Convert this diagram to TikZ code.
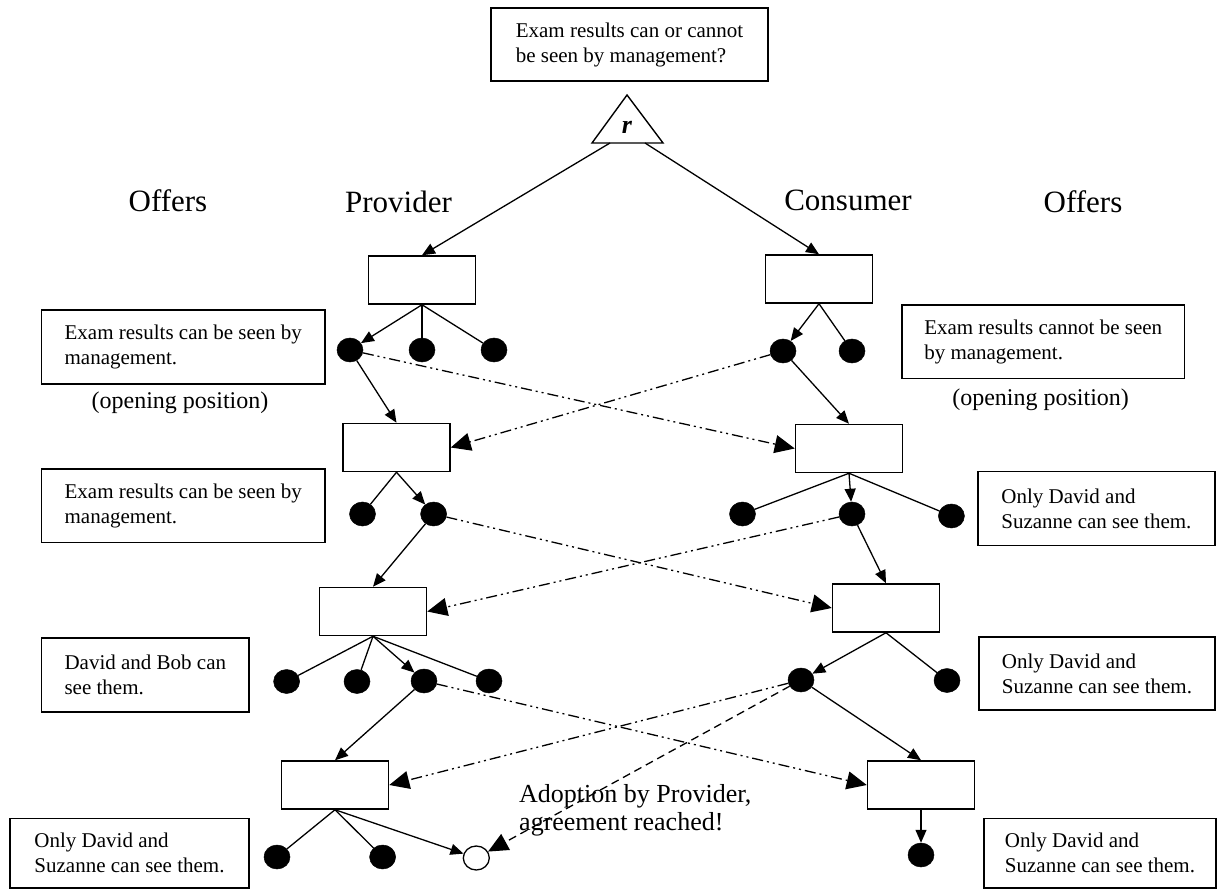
\documentclass[tikz,border=0pt]{standalone}
\usepackage{fontspec}
\setmainfont{Liberation Serif}
\usetikzlibrary{arrows.meta,shapes.geometric}
\begin{document}
\begin{tikzpicture}[x=1pt,y=-1pt,
  box/.style={draw, line width=1.5pt, minimum width=107pt, minimum height=48pt, inner sep=0pt},
  tbox/.style={draw, line width=1.5pt, align=left, inner sep=0pt, font=\fontsize{21}{25}\selectfont},
  dot/.style={ellipse, fill=black, draw=black, line width=0.5pt, minimum width=26pt, minimum height=24pt, inner sep=0pt},
  odot/.style={ellipse, fill=white, draw=black, line width=1.3pt, minimum width=26pt, minimum height=24pt, inner sep=0pt},
  conn/.style={line width=1.3pt},
  arr/.style={conn, -{Triangle[length=13pt,width=11pt]}},
  offer/.style={conn, -{Triangle[length=20pt,width=18pt]}, dash pattern=on 11pt off 4pt on 2pt off 4pt on 2pt off 4pt},
  adopt/.style={conn, -{Triangle[length=20pt,width=18pt]}, dash pattern=on 8pt off 5pt},
  lbl/.style={font=\fontsize{31}{36}\selectfont, inner sep=0pt, anchor=base},
  olbl/.style={font=\fontsize{24}{28}\selectfont, inner sep=0pt, anchor=base},
]
\useasboundingbox (0,0) rectangle (1217,890);

% question box and triangle
\node[tbox, minimum width=277pt, minimum height=73pt] (q) at (629.5,44.5) {Exam results can or cannot\\be seen by management?};
\draw[line width=1.4pt] (627,95) -- (663,143) -- (592,143) -- cycle;
\node[inner sep=0pt, anchor=base, font=\fontsize{26}{30}\selectfont\bfseries\itshape] (r) at (627,134) {r};
\coordinate (triL) at (610,143);
\coordinate (triR) at (645,143);

% headings
\node[lbl] (offL) at (168,212) {Offers};
\node[lbl] (prov) at (398.5,213) {Provider};
\node[lbl] (cons) at (848,211) {Consumer};
\node[lbl] (offR) at (1083,212.5) {Offers};

% decision boxes
\node[box] (P1) at (422,280) {};
\node[box] (C1) at (819,279) {};
\node[box] (P2) at (396.5,447.5) {};
\node[box] (C2) at (849,448.5) {};
\node[box] (P3) at (373,611.5) {};
\node[box] (C3) at (886,608) {};
\node[box] (P4) at (335,785) {};
\node[box] (C4) at (921,785) {};

% dots
\node[dot] (P1a) at (350,350) {};
\node[dot] (P1b) at (422,350) {};
\node[dot] (P1c) at (494,350) {};
\node[dot] (C1a) at (783,351) {};
\node[dot] (C1b) at (852,351) {};
\node[dot] (P2a) at (362.5,514) {};
\node[dot] (P2b) at (433.6,514) {};
\node[dot] (C2a) at (742.5,514) {};
\node[dot] (C2b) at (852,514) {};
\node[dot] (C2c) at (951.4,516) {};
\node[dot] (P3a) at (286.6,681.5) {};
\node[dot] (P3b) at (357,681.5) {};
\node[dot] (P3c) at (424,681) {};
\node[dot] (P3d) at (489,681) {};
\node[dot] (C3a) at (801,680) {};
\node[dot] (C3b) at (947,680.5) {};
\node[dot] (P4a) at (277,857) {};
\node[dot] (P4b) at (382.6,857) {};
\node[odot] (P4c) at (476.3,858) {};
\node[dot] (C4a) at (921,855) {};

% offer text boxes
\node[tbox, minimum width=283.5pt, minimum height=74pt] (tL1) at (183.3,347) {Exam results can be seen by\\management.};
\node[olbl] (opL) at (180,408) {(opening position)};
\node[tbox, minimum width=282.4pt, minimum height=73.3pt] (tR1) at (1043.2,341.7) {Exam results cannot be seen\\by management.};
\node[olbl] (opR) at (1040.6,405) {(opening position)};
\node[tbox, minimum width=283.5pt, minimum height=73.3pt] (tL2) at (183.3,505.7) {Exam results can be seen by\\management.};
\node[tbox, minimum width=237.2pt, minimum height=74pt] (tR2) at (1096.4,508.7) {Only David and\\Suzanne can see them.};
\node[tbox, minimum width=207.5pt, minimum height=73.7pt] (tL3) at (145.3,674.9) {David and Bob can\\see them.};
\node[tbox, minimum width=236pt, minimum height=73pt] (tR3) at (1097,673.5) {Only David and\\Suzanne can see them.};
\node[tbox, minimum width=239pt, minimum height=69.7pt] (tL4) at (129.5,853.2) {Only David and\\Suzanne can see them.};
\node[tbox, minimum width=232pt, minimum height=69.7pt] (tR4) at (1100,853.2) {Only David and\\Suzanne can see them.};

% adoption label
\node[inner sep=0pt, anchor=west, align=left, font=\fontsize{26}{28}\selectfont] (adopt) at (519,810) {Adoption by Provider,\\agreement reached!};

% solid connectors
\draw[arr] (triL) -- (P1.north);
\draw[arr] (triR) -- (C1.north);
\draw[arr] (P1.south) -- (P1a);
\draw[conn] (P1.south) -- (P1b);
\draw[conn] (P1.south) -- (P1c);
\draw[arr] (C1.south) -- (C1a);
\draw[conn] (C1.south) -- (C1b);
\draw[arr] (P1a) -- (P2.north);
\draw[arr] (C1a) -- (C2.north);
\draw[conn] (P2.south) -- (P2a);
\draw[arr] (P2.south) -- (P2b);
\draw[conn] (C2.south) -- (C2a);
\draw[arr] (C2.south) -- (C2b);
\draw[conn] (C2.south) -- (C2c);
\draw[arr] (P2b) -- (P3.north);
\draw[arr] (C2b) -- (C3.north);
\draw[conn] (P3.south) -- (P3a);
\draw[conn] (P3.south) -- (P3b);
\draw[arr] (P3.south) -- (P3c);
\draw[conn] (P3.south) -- (P3d);
\draw[arr] (C3.south) -- (C3a);
\draw[conn] (C3.south) -- (C3b);
\draw[arr] (P3c) -- (P4.north);
\draw[arr] (C3a) -- (C4.north);
\draw[conn] (P4.south) -- (P4a);
\draw[conn] (P4.south) -- (P4b);
\draw[arr] (P4.south) -- (P4c);
\draw[arr] (C4.south) -- (C4a);

% offers exchanged
\draw[offer] (P1a) -- (C2.west);
\draw[offer] (C1a) -- (P2.east);
\draw[offer] (P2b) -- (C3.west);
\draw[offer] (C2b) -- (P3.east);
\draw[offer] (P3c) -- (C4.west);
\draw[offer] (C3a) -- (P4.east);
\draw[adopt] (C3a) -- (P4c);
\end{tikzpicture}
\end{document}
